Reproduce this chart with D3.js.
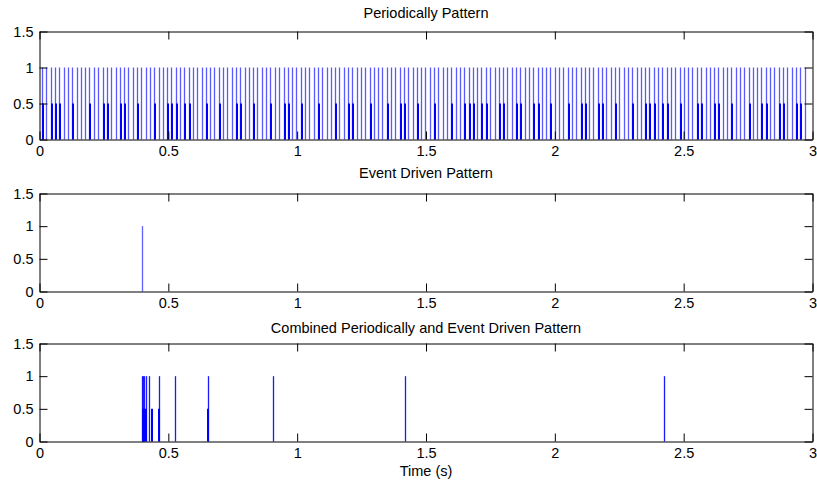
<!DOCTYPE html>
<html>
<head>
<meta charset="utf-8">
<script src="https://cdn.jsdelivr.net/npm/d3@7"></script>
<style>
  html, body { margin: 0; padding: 0; background: #fff; }
  svg { display: block; }
  text { font-family: "Liberation Sans", Arial, sans-serif; fill: #000; }
</style>
</head>
<body>
<svg id="chart" width="817" height="487"></svg>
<script>
// ---------------- data ----------------
const titles = ["Periodically Pattern", "Event Driven Pattern", "Combined Periodically and Event Driven Pattern"];
const xLabel = "Time (s)";
const xTicks = [0, 0.5, 1, 1.5, 2, 2.5, 3];
const yTicks = [0, 0.5, 1, 1.5];

// periodic pulses of height 1 (times in s)
const periodicTimes = [
 0.011,0.027,0.044,0.061,0.077,0.094,0.111,0.128,0.144,0.161,
 0.178,0.194,0.211,0.228,0.245,0.261,0.278,0.295,0.311,0.328,
 0.345,0.362,0.378,0.395,0.412,0.428,0.445,0.462,0.479,0.495,
 0.512,0.529,0.545,0.562,0.579,0.596,0.612,0.629,0.646,0.662,
 0.679,0.696,0.713,0.729,0.746,0.763,0.779,0.796,0.813,0.830,
 0.846,0.863,0.880,0.896,0.913,0.930,0.947,0.963,0.980,0.997,
 1.013,1.030,1.047,1.064,1.080,1.097,1.114,1.130,1.147,1.164,
 1.181,1.197,1.214,1.231,1.247,1.264,1.281,1.298,1.314,1.331,
 1.348,1.364,1.381,1.398,1.415,1.431,1.448,1.465,1.481,1.498,
 1.515,1.532,1.548,1.565,1.582,1.598,1.615,1.632,1.649,1.665,
 1.682,1.699,1.715,1.732,1.749,1.766,1.782,1.799,1.816,1.832,
 1.849,1.866,1.883,1.899,1.916,1.933,1.949,1.966,1.983,2.000,
 2.016,2.033,2.050,2.066,2.083,2.100,2.117,2.133,2.150,2.167,
 2.183,2.200,2.217,2.234,2.250,2.267,2.284,2.300,2.317,2.334,
 2.351,2.367,2.384,2.401,2.417,2.434,2.451,2.468,2.484,2.501,
 2.518,2.534,2.551,2.568,2.585,2.601,2.618,2.635,2.651,2.668,
 2.685,2.702,2.718,2.735,2.752,2.768,2.785,2.802,2.819,2.835,
 2.852,2.869,2.885,2.902,2.919,2.936,2.952,2.969
];
const periodicValue = 1;
// periodic pulses that also show a 0.5 sample
const periodicHalfTimes = [
 0.011,0.044,0.061,0.077,0.128,0.194,0.245,0.261,0.311,0.328,
 0.378,0.445,0.495,0.512,0.529,0.562,0.579,0.646,0.696,0.763,
 0.779,0.830,0.896,0.947,0.963,1.013,1.080,1.147,1.197,1.214,
 1.281,1.348,1.398,1.415,1.465,1.532,1.598,1.649,1.665,1.682,
 1.715,1.732,1.782,1.799,1.849,1.866,1.916,1.933,1.983,2.050,
 2.100,2.117,2.167,2.183,2.234,2.300,2.351,2.367,2.384,2.417,
 2.434,2.484,2.551,2.568,2.618,2.635,2.685,2.752,2.802,2.819,
 2.869,2.885,2.936,2.952
];
const halfValue = 0.5;

// event driven
const eventTimes = [0.396];
const eventValue = 1;

// combined
const combinedFullTimes = [0.396, 0.400, 0.404, 0.412, 0.426, 0.462, 0.524, 0.655, 0.907, 1.420, 2.423];
const combinedValue = 1;
const combinedHalfTimes = [0.398, 0.402, 0.408, 0.431, 0.459, 0.651];

// ---------------- layout ----------------
const svg = d3.select("#chart");
const panels = [
  { top: 31.5, bottom: 139.5, titleY: 18, value: periodicValue,
    full: periodicTimes, half: periodicHalfTimes, fullColor: "#5a5aff" },
  { top: 193.5, bottom: 291.5, titleY: 178, value: eventValue,
    full: eventTimes, half: [], fullColor: "#6060ff" },
  { top: 343.5, bottom: 441.5, titleY: 333, value: combinedValue,
    full: combinedFullTimes, half: combinedHalfTimes, fullColor: "#1a1aff" }
];
const left = 39.5, right = 812.5;
const x = d3.scaleLinear().domain([0, 3]).range([left, right]);
const FS = 14.5;

panels.forEach((p, i) => {
  const y = d3.scaleLinear().domain([0, 1.5]).range([p.bottom, p.top]);
  const g = svg.append("g");

  g.selectAll("line.full").data(p.full).join("line")
    .attr("class", "full")
    .attr("x1", d => Math.round(x(d)) + 0.5).attr("x2", d => Math.round(x(d)) + 0.5)
    .attr("y1", y(0)).attr("y2", y(p.value))
    .attr("stroke", p.fullColor).attr("stroke-width", 1.3);
  g.selectAll("line.half").data(p.half).join("line")
    .attr("class", "half")
    .attr("x1", d => Math.round(x(d)) + 1).attr("x2", d => Math.round(x(d)) + 1)
    .attr("y1", y(0)).attr("y2", y(halfValue))
    .attr("stroke", "#0000ff").attr("stroke-width", 2);

  const tl = 8;
  const bottomAx = d3.axisBottom(x).tickValues(xTicks).tickSizeInner(-tl).tickSizeOuter(0).tickPadding(6)
    .tickFormat(d3.format("~g"));
  const topAx = d3.axisTop(x).tickValues(xTicks).tickSizeInner(-tl).tickSizeOuter(0).tickFormat("");
  const leftAx = d3.axisLeft(y).tickValues(yTicks).tickSizeInner(-tl).tickSizeOuter(0).tickPadding(6)
    .tickFormat(d3.format("~g"));
  const rightAx = d3.axisRight(y).tickValues(yTicks).tickSizeInner(-tl).tickSizeOuter(0).tickFormat("");

  const style = sel => {
    sel.selectAll("path.domain").attr("stroke", "#000").attr("stroke-width", 1);
    sel.selectAll(".tick line").attr("stroke", "#000").attr("stroke-width", 1);
    sel.selectAll("text").style("font-size", FS + "px").attr("fill", "#000")
      .style("font-family", '"Liberation Sans", Arial, sans-serif');
    sel.attr("font-family", null).attr("font-size", null);
  };
  g.append("g").attr("transform", `translate(0,${p.bottom})`).call(bottomAx).call(style);
  g.append("g").attr("transform", `translate(0,${p.top})`).call(topAx).call(style);
  g.append("g").attr("transform", `translate(${left},0)`).call(leftAx).call(style);
  g.append("g").attr("transform", `translate(${right},0)`).call(rightAx).call(style);

  svg.append("text").attr("x", (left + right) / 2).attr("y", p.titleY)
    .attr("text-anchor", "middle").style("font-size", FS + "px").text(titles[i]);
});

svg.append("text").attr("x", (left + right) / 2).attr("y", 476)
  .attr("text-anchor", "middle").style("font-size", FS + "px").text(xLabel);
</script>
</body>
</html>
